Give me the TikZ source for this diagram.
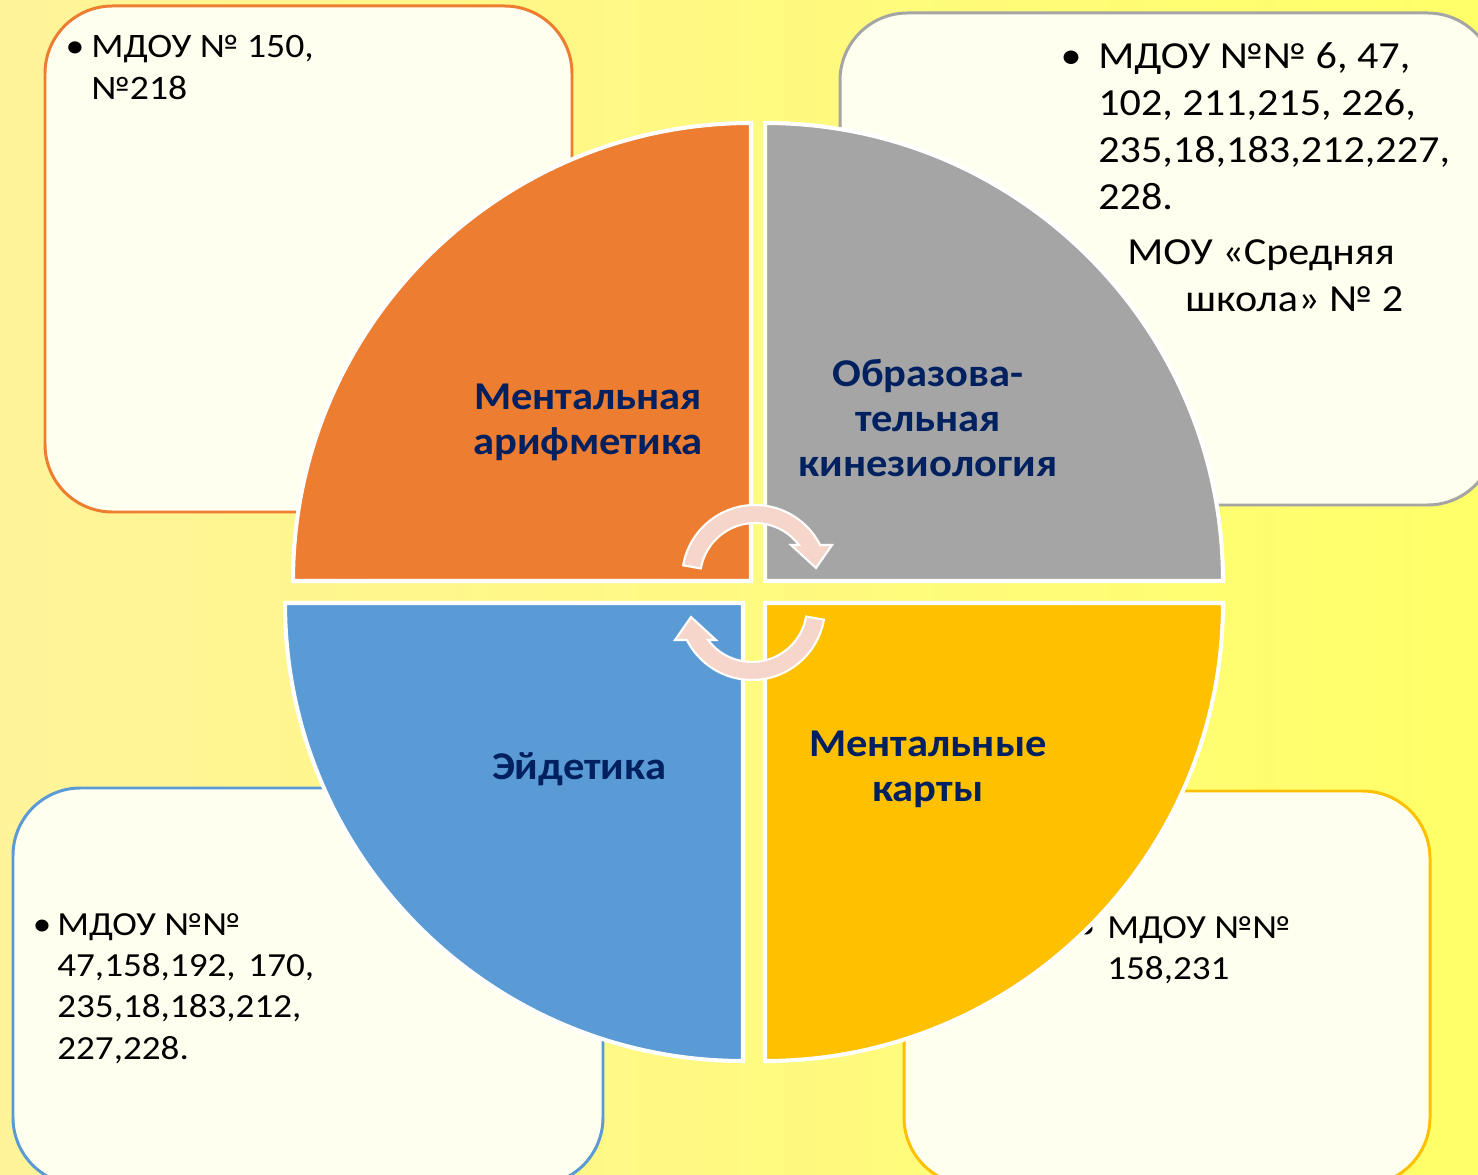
\documentclass[tikz,border=0pt]{standalone}
\usepackage{fontspec}
\setmainfont{Carlito}
\newfontfamily\boxfont[FakeStretch=1.1]{Carlito}
\newfontfamily\labfont[FakeStretch=1.08]{Carlito}
\definecolor{bgL}{HTML}{FFF49A}
\definecolor{bgR}{HTML}{FFFF68}
\definecolor{boxfill}{HTML}{FFFFF0}
\definecolor{qorange}{HTML}{ED7D31}
\definecolor{qgray}{HTML}{A5A5A5}
\definecolor{qblue}{HTML}{5B9BD5}
\definecolor{qgold}{HTML}{FFC000}
\definecolor{navy}{HTML}{002060}
\definecolor{arrowfill}{HTML}{F6D5CA}
\begin{document}
\begin{tikzpicture}[x=0.02cm,y=0.02cm,
  infobox/.style={fill=boxfill, line width=1.7pt, rounded corners=1.35cm},
  quad/.style={draw=white, line width=2.3pt},
  cyc/.style={fill=arrowfill, draw=white, line width=1.2pt, line join=miter},
  tl/.style={anchor=base west, inner sep=0pt, font=\boxfont\fontsize{19.5}{23.8}\selectfont},
  tr/.style={anchor=base west, inner sep=0pt, font=\boxfont\fontsize{21.8}{26.6}\selectfont},
  bl/.style={anchor=base west, inner sep=0pt, font=\boxfont\fontsize{19.2}{23.4}\selectfont},
  bul/.style={anchor=base, inner sep=0pt},
  lab/.style={anchor=base, inner sep=0pt, text=navy, font=\labfont\fontsize{22.4}{26}\selectfont\bfseries}]
\useasboundingbox (0,0) rectangle (1478,-1175);
\clip (0,0) rectangle (1478,-1175);
\fill[left color=bgL, right color=bgR] (0,0) rectangle (1478,-1175);

% info boxes
\draw[infobox, draw=qorange] (45,-6) rectangle (572,-512);
\draw[infobox, draw=qgray] (840,-13) rectangle (1495,-505);
\draw[infobox, draw=qblue] (13,-788) rectangle (603,-1185);
\draw[infobox, draw=qgold] (904,-791) rectangle (1430,-1185);

% box texts
\node[tl, bul] (tlb) at (75,-58) {•};
\node[tl] (tl1) at (91,-58) {МДОУ № 150,};
\node[tl] (tl2) at (91,-100) {№218};

\node[tr, bul] (trb) at (1071,-69) {•};
\node[tr] (tr1) at (1098,-69) {МДОУ №№ 6, 47,};
\node[tr] (tr2) at (1098,-116) {102, 211,215, 226,};
\node[tr] (tr3) at (1098,-163) {235,18,183,212,227,};
\node[tr] (tr4) at (1098,-210) {228.};
\node[tr] (tr5) at (1127,-265) {МОУ «Средняя};
\node[tr] (tr6) at (1185,-312) {школа» № 2};

\node[bl, bul] (blb) at (42,-935) {•};
\node[bl] (bl1) at (57,-935) {МДОУ №№};
\node[bl] (bl2) at (57,-976) {47,158,192,\hspace{0.38em}170,};
\node[bl] (bl3) at (57,-1017) {235,18,183,212,};
\node[bl] (bl4) at (57,-1059) {227,228.};

\node[bl, bul] (brb) at (1086,-938) {•};
\node[bl] (br1) at (1107,-938) {МДОУ №№};
\node[bl] (br2) at (1107,-979) {158,231};

% quadrants
\filldraw[quad, fill=qorange] (751,-581) -- ++(180:458) arc[start angle=180, end angle=90, radius=458] -- cycle;
\filldraw[quad, fill=qgray] (765,-581) -- ++(90:458) arc[start angle=90, end angle=0, radius=458] -- cycle;
\filldraw[quad, fill=qblue] (743,-603) -- ++(180:458) arc[start angle=180, end angle=270, radius=458] -- cycle;
\filldraw[quad, fill=qgold] (765,-603) -- ++(0:458) arc[start angle=0, end angle=-90, radius=458] -- cycle;

% labels
\node[lab] (a1) at (588,-410) {Ментальная};
\node[lab] (a2) at (588,-455) {арифметика};
\node[lab] (k1) at (928,-387) {Образова-};
\node[lab] (k2) at (928,-432) {тельная};
\node[lab] (k3) at (928,-477) {кинезиология};
\node[lab] (e1) at (579,-779) {Эйдетика};
\node[lab] (m1) at (928,-756) {Ментальные};
\node[lab] (m2) at (928,-801) {карты};

% circular arrows
\filldraw[cyc] (755,-578) ++(170:73) arc[start angle=170, end angle=26.9, radius=73]
  -- (832,-545) -- (816,-568) -- (791,-545) -- (799,-545)
  arc[start angle=36.9, end angle=170, radius=55] -- cycle;
\filldraw[cyc] (752,-607) ++(-10:73) arc[start angle=-10, end angle=-153.1, radius=73]
  -- (675,-640) -- (691,-617) -- (716,-640) -- (708,-640)
  arc[start angle=-143.1, end angle=-10, radius=55] -- cycle;
\end{tikzpicture}
\end{document}
